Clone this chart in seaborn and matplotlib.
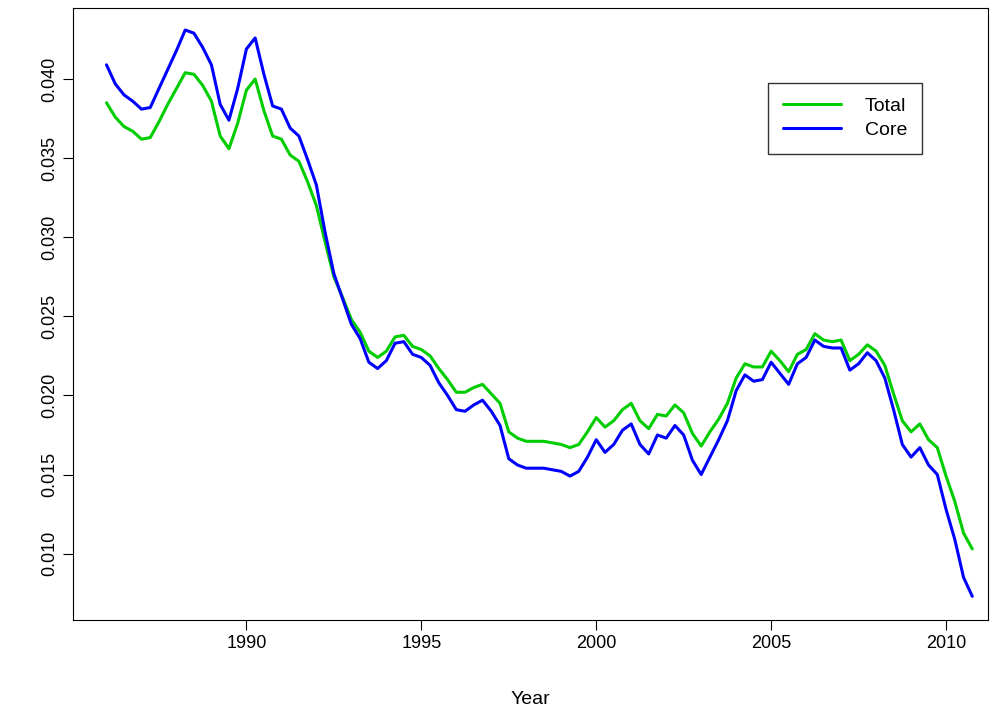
import matplotlib
matplotlib.use("Agg")
import matplotlib.pyplot as plt
import seaborn as sns
import numpy as np
import pandas as pd

years = np.arange(1986, 2011, 0.25)

total = [.0385, .0376, .0370, .0367, .0362, .0363, .0373, .0384, .0394, .0404, .0403, .0396,
         .0386, .0364, .0356, .0372, .0393, .0400, .0380, .0364, .0362, .0352, .0348, .0335,
         .0320, .0297, .0275, .0262, .0248, .0240, .0228, .0224, .0228, .0237, .0238, .0231,
         .0229, .0225, .0217, .0210, .0202, .0202, .0205, .0207, .0201, .0195, .0177, .0173,
         .0171, .0171, .0171, .0170, .0169, .0167, .0169, .0177, .0186, .0180, .0184, .0191,
         .0195, .0184, .0179, .0188, .0187, .0194, .0189, .0176, .0168, .0177, .0185, .0195,
         .0211, .0220, .0218, .0218, .0228, .0222, .0215, .0226, .0229, .0239, .0235, .0234,
         .0235, .0222, .0226, .0232, .0228, .0219, .0201, .0184, .0177, .0182, .0172, .0167,
         .0149, .0133, .0113, .0103]

core = [.0409, .0397, .0390, .0386, .0381, .0382, .0394, .0406, .0418, .0431, .0429, .0420,
        .0409, .0384, .0374, .0394, .0419, .0426, .0403, .0383, .0381, .0369, .0364, .0349,
        .0333, .0303, .0277, .0261, .0245, .0236, .0221, .0217, .0222, .0233, .0234, .0226,
        .0224, .0219, .0208, .0200, .0191, .0190, .0194, .0197, .0190, .0181, .0160, .0156,
        .0154, .0154, .0154, .0153, .0152, .0149, .0152, .0161, .0172, .0164, .0169, .0178,
        .0182, .0169, .0163, .0175, .0173, .0181, .0175, .0159, .0150, .0161, .0172, .0184,
        .0203, .0213, .0209, .0210, .0221, .0214, .0207, .0220, .0224, .0235, .0231, .0230,
        .0230, .0216, .0220, .0227, .0222, .0211, .0191, .0169, .0161, .0167, .0156, .0150,
        .0128, .0109, .0085, .0073]

sns.set_style("ticks")
plt.rcParams['font.family'] = ['Liberation Sans', 'DejaVu Sans']
plt.rcParams['text.color'] = 'black'
plt.rcParams['axes.labelcolor'] = 'black'
plt.rcParams['xtick.color'] = 'black'
plt.rcParams['ytick.color'] = 'black'

df = pd.DataFrame({"Year": np.concatenate([years, years]),
                   "value": total + core,
                   "series": ["Total"] * len(years) + ["Core"] * len(years)})

fig = plt.figure(figsize=(9.9, 7.16), dpi=100)
ax = fig.add_axes([0.074, 0.134, 0.924, 0.855])
sns.lineplot(data=df, x="Year", y="value", hue="series",
             palette={"Total": "#00cd00", "Core": "#0000ff"}, linewidth=2.2, ax=ax)

ax.set_xlim(1985.05, 2011.2)
ax.set_ylim(0.0058, 0.0445)
ax.set_xticks([1990, 1995, 2000, 2005, 2010])
ax.set_yticks(np.arange(0.010, 0.0401, 0.005))
ax.set_yticklabels([f"{v:.3f}" for v in np.arange(0.010, 0.0401, 0.005)],
                   rotation=90, va="center")
ax.tick_params(labelsize=13, length=7)
ax.set_xlabel("Year", fontsize=14, labelpad=28)
ax.set_ylabel("")
for s in ax.spines.values():
    s.set_visible(True)
    s.set_color("black")

leg = ax.legend(loc="upper left", bbox_to_anchor=(0.76, 0.878), fontsize=14,
                frameon=True, fancybox=False, edgecolor="black", handlelength=3.0,
                borderpad=0.75, labelspacing=0.35, handletextpad=1.2, borderaxespad=0)
leg.get_frame().set_linewidth(1.0)
for t in leg.get_texts():
    t.set_color("black")
fig.savefig("out.png", dpi=100)
